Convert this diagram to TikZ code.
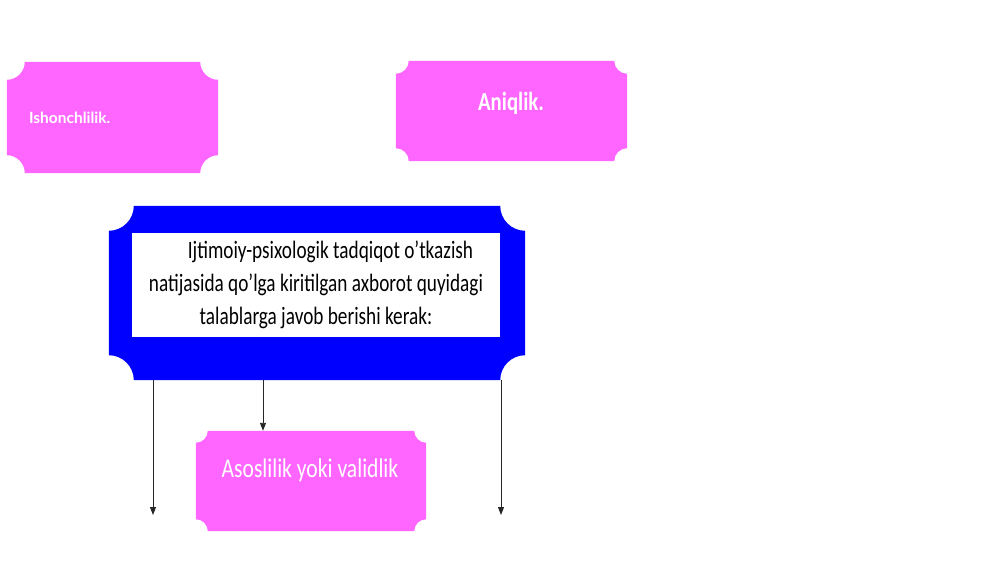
\documentclass[tikz,border=0pt]{standalone}
\usepackage{fontspec}
\setmainfont{Carlito}
\newfontfamily\condfont[FakeStretch=0.77]{Carlito}
\newfontfamily\asofont[FakeStretch=0.8]{Carlito}
\newfontfamily\condbold[FakeStretch=0.8]{Carlito}
\newfontfamily\latofont{Lato}
\usetikzlibrary{arrows.meta,backgrounds}
\definecolor{pinkbox}{HTML}{FF66FF}
\definecolor{bluebox}{HTML}{0000FF}
\newcommand\plaquefill[3]{%
  \fill[#3] ([xshift=#2]#1.north west) -- ([xshift=-#2]#1.north east)
    arc[start angle=180,end angle=270,radius=#2]
    -- ([yshift=#2]#1.south east)
    arc[start angle=90,end angle=180,radius=#2]
    -- ([xshift=#2]#1.south west)
    arc[start angle=0,end angle=90,radius=#2]
    -- ([yshift=-#2]#1.north west)
    arc[start angle=270,end angle=360,radius=#2] -- cycle;}
\tikzset{
  boxnode/.style={rectangle,inner sep=0pt,text=white},
  arr/.style={draw=black!85,line width=0.9pt,-{Triangle[length=8pt,width=6pt]}}
}
\begin{document}
\begin{tikzpicture}[x=1pt,y=-1pt]
\useasboundingbox (0,0) rectangle (1000,562);
\node[boxnode,minimum width=211,minimum height=111,text width=167,align=left,
      inner xsep=22,font=\latofont\bfseries\fontsize{15.5}{18}\selectfont]
      (ish) at (112.5,117.5) {Ishonchlilik.};
\node[boxnode,minimum width=231,minimum height=100] (ani) at (511.5,111) {};
\node[text=white,font=\condbold\bfseries\fontsize{26}{30}\selectfont] (anit) at (511,103) {Aniqlik.};
\node[boxnode,minimum width=416,minimum height=174] (main) at (317,293) {};
\node[rectangle,fill=white,minimum width=368,minimum height=104,inner sep=0pt,align=center,
      font=\condfont\fontsize{25}{33}\selectfont] (txt) at (316,285)
  {\hspace*{29pt}Ijtimoiy-psixologik tadqiqot o’tkazish\\natijasida qo’lga kiritilgan axborot quyidagi\\talablarga javob berishi kerak:};
\node[boxnode,minimum width=230,minimum height=100] (aso) at (311,481) {};
\node[text=white,font=\asofont\fontsize{27}{30}\selectfont] (asot) at (310,470) {Asoslilik yoki validlik};
\begin{pgfonlayer}{background}
\plaquefill{ish}{18pt}{pinkbox}
\plaquefill{ani}{13pt}{pinkbox}
\plaquefill{main}{25pt}{bluebox}
\plaquefill{aso}{12pt}{pinkbox}
\end{pgfonlayer}
\coordinate (e1) at (153,515);
\coordinate (e2) at (263,0);
\coordinate (e3) at (501,515);
\draw[arr] (main.south -| e1) -- (e1);
\draw[arr] (main.south -| e2) -- (aso.north -| e2);
\draw[arr] (main.south -| e3) -- (e3);
\end{tikzpicture}
\end{document}
